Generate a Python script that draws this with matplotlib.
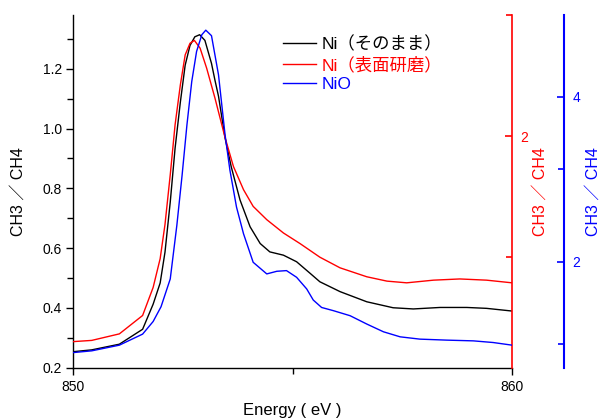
import matplotlib
matplotlib.use("Agg")
import matplotlib.pyplot as plt
from matplotlib.ticker import MultipleLocator, FixedLocator

plt.rcParams['font.family'] = ['Liberation Sans', 'Noto Sans CJK JP', 'DejaVu Sans']

# ---- data ----
energy_ni = [850.00, 850.42, 851.05, 851.58, 851.82, 851.98, 852.09, 852.21, 852.32, 852.44,
             852.55, 852.66, 852.77, 852.88, 853.00, 853.15, 853.23, 853.31, 853.46, 853.60,
             853.80, 854.03, 854.26, 854.48, 854.79, 855.09, 855.40, 855.62, 856.08, 856.69,
             857.29, 857.75, 858.36, 858.97, 859.42, 860.00]
ratio_ni = [0.253, 0.259, 0.278, 0.328, 0.412, 0.483, 0.586, 0.754, 0.934, 1.088,
            1.212, 1.278, 1.307, 1.314, 1.295, 1.218, 1.161, 1.108, 0.968, 0.872,
            0.761, 0.671, 0.615, 0.587, 0.576, 0.554, 0.515, 0.487, 0.454, 0.420,
            0.400, 0.396, 0.401, 0.401, 0.398, 0.389]

energy_polished = [850.00, 850.42, 851.05, 851.58, 851.82, 851.98, 852.09, 852.21, 852.32, 852.44,
                   852.55, 852.66, 852.76, 852.89, 853.04, 853.23, 853.46, 853.65, 853.88, 854.10,
                   854.41, 854.79, 855.17, 855.62, 856.08, 856.69, 857.15, 857.60, 858.21, 858.81,
                   859.42, 860.00]
ratio_polished = [1.152, 1.157, 1.184, 1.260, 1.376, 1.495, 1.636, 1.842, 2.048, 2.213,
                  2.337, 2.385, 2.397, 2.365, 2.282, 2.158, 1.995, 1.876, 1.780, 1.711,
                  1.656, 1.601, 1.557, 1.501, 1.457, 1.420, 1.402, 1.395, 1.406, 1.411,
                  1.406, 1.395]

energy_nio = [850.00, 850.42, 851.05, 851.58, 851.82, 852.00, 852.21, 852.36, 852.48, 852.59,
              852.70, 852.81, 852.93, 853.02, 853.15, 853.31, 853.46, 853.57, 853.72, 853.88,
              854.10, 854.41, 854.64, 854.86, 855.09, 855.32, 855.47, 855.66, 855.93, 856.31,
              856.69, 857.07, 857.45, 857.90, 858.51, 859.12, 859.57, 860.00]
ratio_nio = [0.896, 0.917, 0.986, 1.120, 1.273, 1.452, 1.789, 2.438, 3.047, 3.656,
             4.183, 4.548, 4.751, 4.806, 4.739, 4.264, 3.534, 3.108, 2.661, 2.337,
             1.991, 1.850, 1.882, 1.890, 1.809, 1.668, 1.533, 1.443, 1.404, 1.343,
             1.242, 1.148, 1.087, 1.059, 1.047, 1.038, 1.018, 0.986]

labels = ['Ni（そのまま）', 'Ni（表面研磨）', 'NiO']
colors = ['black', 'red', 'blue']
x_ticks = [850, 860]
ylabel_text = 'CH3 ／ CH4'

fig = plt.figure(figsize=(6.0, 4.19), dpi=100)
ax = fig.add_axes([73.3 / 600, (419 - 367.5) / 419, (512 - 73.3) / 600, 352.5 / 419])
ax2 = ax.twinx()
ax3 = ax.twinx()

l1, = ax.plot(energy_ni, ratio_ni, color=colors[0], lw=1.0, label=labels[0])
l2, = ax2.plot(energy_polished, ratio_polished, color=colors[1], lw=1.0, label=labels[1])
l3, = ax3.plot(energy_nio, ratio_nio, color=colors[2], lw=1.0, label=labels[2])

# main axis
ax.set_xlim(850, 860)
ax.set_ylim(0.2, 1.38)
ax.set_xticks(x_ticks)
ax.xaxis.set_minor_locator(FixedLocator([855]))
ax.yaxis.set_major_locator(MultipleLocator(0.2))
ax.yaxis.set_minor_locator(MultipleLocator(0.1))
ax.yaxis.set_major_formatter(matplotlib.ticker.FormatStrFormatter('%.1f'))
ax.spines['top'].set_visible(False)
ax.spines['right'].set_visible(False)
ax.spines['left'].set_linewidth(1.0)
ax.spines['bottom'].set_linewidth(1.0)
ax.tick_params(axis='both', which='major', direction='out', length=5, width=1, labelsize=10, pad=3)
ax.tick_params(axis='both', which='minor', direction='out', length=4, width=1)
ax.tick_params(axis='x', which='major', pad=4)
ax.set_xlabel('Energy ( eV )', fontsize=12)
ax.xaxis.set_label_coords(0.5, -0.123)
ax.xaxis.label.set_verticalalignment('center')
ax.set_ylabel(ylabel_text, fontsize=11.5)
ax.yaxis.set_label_coords(-0.126, 0.5)
ax.yaxis.label.set_verticalalignment('center')

# red axis
ax2.set_ylim(1.045, 2.502)
ax2.yaxis.set_major_locator(FixedLocator([2]))
ax2.yaxis.set_minor_locator(FixedLocator([1.5, 2.5]))
for s in ['left', 'top', 'bottom']:
    ax2.spines[s].set_visible(False)
ax2.spines['right'].set_color('red')
ax2.spines['right'].set_linewidth(1.2)
ax2.tick_params(axis='y', which='major', direction='in', length=5, width=1.2,
                colors='red', labelsize=10, pad=6)
ax2.tick_params(axis='y', which='minor', direction='in', length=4, width=1.2, colors='red')
ax2.set_ylabel(ylabel_text, fontsize=11.5, color='red')
ax2.yaxis.set_label_coords(1.0638, 0.5)
ax2.yaxis.label.set_verticalalignment('center')

# blue axis
ax3.set_ylim(0.715, 4.99)
ax3.spines['right'].set_position(('axes', 1.1185))
for s in ['left', 'top', 'bottom']:
    ax3.spines[s].set_visible(False)
ax3.spines['right'].set_color('blue')
ax3.spines['right'].set_linewidth(1.5)
ax3.yaxis.set_major_locator(FixedLocator([2, 4]))
ax3.yaxis.set_minor_locator(FixedLocator([1.0, 3.12]))
ax3.tick_params(axis='y', which='major', direction='in', length=5, width=1.2,
                colors='blue', labelsize=10, pad=6)
ax3.tick_params(axis='y', which='minor', direction='in', length=4, width=1.2, colors='blue')
ax3.set_ylabel(ylabel_text, fontsize=11.5, color='blue')
ax3.yaxis.set_label_coords(1.1846, 0.5)
ax3.yaxis.label.set_verticalalignment('center')

leg = ax3.legend(handles=[l1, l2, l3], loc='upper left',
                 bbox_to_anchor=(283 / 600, 1 - 36 / 419), bbox_transform=fig.transFigure,
                 frameon=False, fontsize=12.5, handlelength=1.9, handletextpad=0.3,
                 labelspacing=0.22, borderpad=0, borderaxespad=0, labelcolor='linecolor')

fig.savefig('out.png', dpi=100)
